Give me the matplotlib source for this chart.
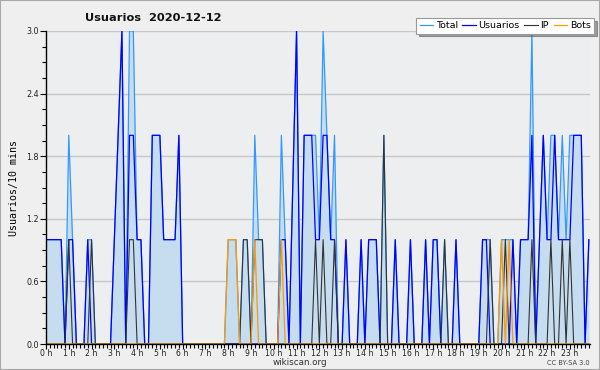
import matplotlib
matplotlib.use("Agg")
import matplotlib.pyplot as plt
from matplotlib.patches import Rectangle
from matplotlib.ticker import MultipleLocator
import numpy as np

# 10-minute slots, 0..143 (00:00 .. 23:50)
usuarios = [1, 1, 1, 1, 1, 0, 1, 1, 0, 0, 0, 1, 0, 0, 0, 0, 0, 0, 1, 2,
            3, 0, 2, 2, 1, 1, 0, 0, 2, 2, 2, 1, 1, 1, 1, 2, 0, 0, 0, 0,
            0, 0, 0, 0, 0, 0, 0, 0, 0, 0, 0, 0, 0, 0, 0, 0, 0, 0, 0, 0,
            0, 0, 1, 1, 0, 1.5, 3, 0, 2, 2, 2, 1, 1, 2, 2, 1, 1, 0, 0, 1,
            0, 0, 0, 1, 0, 1, 1, 1, 0, 0, 0, 0, 1, 0, 0, 0, 1, 0, 0, 0,
            1, 0, 1, 1, 0, 0, 0, 0, 1, 0, 0, 0, 0, 0, 0, 1, 1, 0, 0, 0,
            0, 0, 0, 1, 0, 1, 1, 1, 2, 0, 1, 2, 1, 1, 2, 1, 1, 1, 1, 2,
            2, 2, 0, 1]
ip = [0, 0, 0, 0, 0, 0, 1, 0, 0, 0, 0, 0, 1, 0, 0, 0, 0, 0, 0, 0,
      0, 0, 1, 1, 0, 0, 0, 0, 0, 0, 0, 0, 0, 0, 0, 0, 0, 0, 0, 0,
      0, 0, 0, 0, 0, 0, 0, 0, 0, 0, 0, 0, 1, 1, 0, 1, 1, 1, 0, 0,
      0, 0, 0, 0, 0, 0, 0, 0, 0, 0, 0, 1, 0, 1, 0, 0, 1, 0, 0, 0,
      0, 0, 0, 0, 0, 0, 0, 0, 0, 2, 0, 0, 0, 0, 0, 0, 0, 0, 0, 0,
      0, 0, 0, 0, 0, 1, 0, 0, 0, 0, 0, 0, 0, 0, 0, 0, 0, 1, 0, 0,
      0, 1, 0, 0, 0, 0, 0, 0, 1, 0, 0, 0, 0, 1, 0, 0, 1, 0, 1, 0,
      0, 0, 0, 0]
bots = [0, 0, 0, 0, 0, 0, 0, 0, 0, 0, 0, 0, 0, 0, 0, 0, 0, 0, 0, 0,
        0, 0, 0, 0, 0, 0, 0, 0, 0, 0, 0, 0, 0, 0, 0, 0, 0, 0, 0, 0,
        0, 0, 0, 0, 0, 0, 0, 0, 1, 1, 1, 0, 0, 0, 0, 1, 0, 0, 0, 0,
        0, 0, 1, 0, 0, 0, 0, 0, 0, 0, 0, 0, 0, 0, 0, 0, 0, 0, 0, 0,
        0, 0, 0, 0, 0, 0, 0, 0, 0, 0, 0, 0, 0, 0, 0, 0, 0, 0, 0, 0,
        0, 0, 0, 0, 0, 0, 0, 0, 0, 0, 0, 0, 0, 0, 0, 0, 0, 0, 0, 0,
        1, 0, 1, 0, 0, 0, 0, 0, 0, 0, 0, 0, 0, 0, 0, 0, 0, 0, 0, 0,
        0, 0, 0, 0]
total = [1, 1, 1, 1, 1, 0, 2, 1, 0, 0, 0, 1, 1, 0, 0, 0, 0, 0, 1, 2,
         3, 0, 3, 3, 1, 1, 0, 0, 2, 2, 2, 1, 1, 1, 1, 2, 0, 0, 0, 0,
         0, 0, 0, 0, 0, 0, 0, 0, 1, 1, 1, 0, 1, 1, 0, 2, 1, 1, 0, 0,
         0, 0, 2, 1, 0, 1.5, 3, 0, 2, 2, 2, 2, 1, 3, 2, 1, 2, 0, 0, 1,
         0, 0, 0, 1, 0, 1, 1, 1, 0, 2, 0, 0, 1, 0, 0, 0, 1, 0, 0, 0,
         1, 0, 1, 1, 0, 1, 0, 0, 1, 0, 0, 0, 0, 0, 0, 1, 1, 1, 0, 0,
         1, 1, 1, 1, 0, 1, 1, 1, 3, 0, 1, 2, 1, 2, 2, 1, 2, 1, 2, 2,
         2, 2, 0, 1]
hour_labels = [f"{h} h" for h in range(24)]
y_ticks = [0.0, 0.6, 1.2, 1.8, 2.4, 3.0]

x = np.arange(len(total)) / 6.0

fig = plt.figure(figsize=(6.0, 3.7), dpi=100)
fig.patch.set_facecolor("#efefef")
fig.patches.append(Rectangle((0, 0), 1, 1, transform=fig.transFigure,
                             fill=False, edgecolor="#a8a8a8", lw=1.5))

ax = fig.add_axes([46/600, 26/370, 544/600, 313/370])
ax.set_facecolor("#eceef0")

ax.fill_between(x, total, 0, color="#c6ddf0", lw=0, zorder=1)
for yv in y_ticks[1:]:
    ax.axhline(yv, color="#c8c8c8", lw=1, zorder=0.5)
ax.plot(x, total, color="#3399ff", lw=0.9, zorder=2, label="Total")
ax.plot(x, usuarios, color="#0000ff", lw=0.9, zorder=3, label="Usuarios")
ax.plot(x, ip, color="#333333", lw=0.8, zorder=4, label="IP")
ax.plot(x, bots, color="#ff9900", lw=0.9, zorder=5, label="Bots")

ax.set_xlim(0, 143.3/6)
ax.set_ylim(0, 3.0)
ax.set_xticks(range(24))
ax.set_xticklabels(hour_labels, fontsize=5.6, color="#222222")
ax.xaxis.set_minor_locator(MultipleLocator(1/6))
ax.set_yticks(y_ticks)
ax.set_yticklabels([f"{v:.1f}" for v in y_ticks], fontsize=5.8, color="#222222")
ax.yaxis.set_minor_locator(MultipleLocator(0.15))
ax.tick_params(axis="x", which="major", length=3.5, width=0.8, pad=0.3)
ax.tick_params(axis="x", which="minor", length=3, width=0.8)
ax.tick_params(axis="y", which="major", length=4, width=0.8, pad=1)
ax.tick_params(axis="y", which="minor", length=3, width=0.8)
for s in ["top", "right"]:
    ax.spines[s].set_visible(False)
for s in ["left", "bottom"]:
    ax.spines[s].set_linewidth(1.0)
    ax.spines[s].set_zorder(6)

ax.set_ylabel("Usuarios/10 mins", fontsize=7.2, family="DejaVu Sans Mono",
              labelpad=5)

fig.text(85/600, 1 - 18/370, "Usuarios  2020-12-12", fontsize=8.2,
         fontweight="bold", ha="left", va="center", color="#111111")
fig.text(300/600, 1 - 367/370, "wikiscan.org", fontsize=6.3, ha="center",
         va="bottom", color="#333333")
fig.text(590/600, 1 - 366/370, "CC BY-SA 3.0", fontsize=4.8, ha="right",
         va="bottom", color="#444444")

leg = fig.legend(loc="upper right", bbox_to_anchor=(594/600, 1 - 18/370),
                 ncol=4, fontsize=6.8, frameon=True, fancybox=False,
                 shadow=True, handlelength=1.4, handletextpad=0.3,
                 columnspacing=0.5, borderpad=0.35, borderaxespad=0)
leg.get_frame().set_edgecolor("#999999")
leg.get_frame().set_linewidth(0.8)
leg.get_frame().set_facecolor("white")

fig.savefig("out.png", dpi=100, facecolor=fig.get_facecolor())
